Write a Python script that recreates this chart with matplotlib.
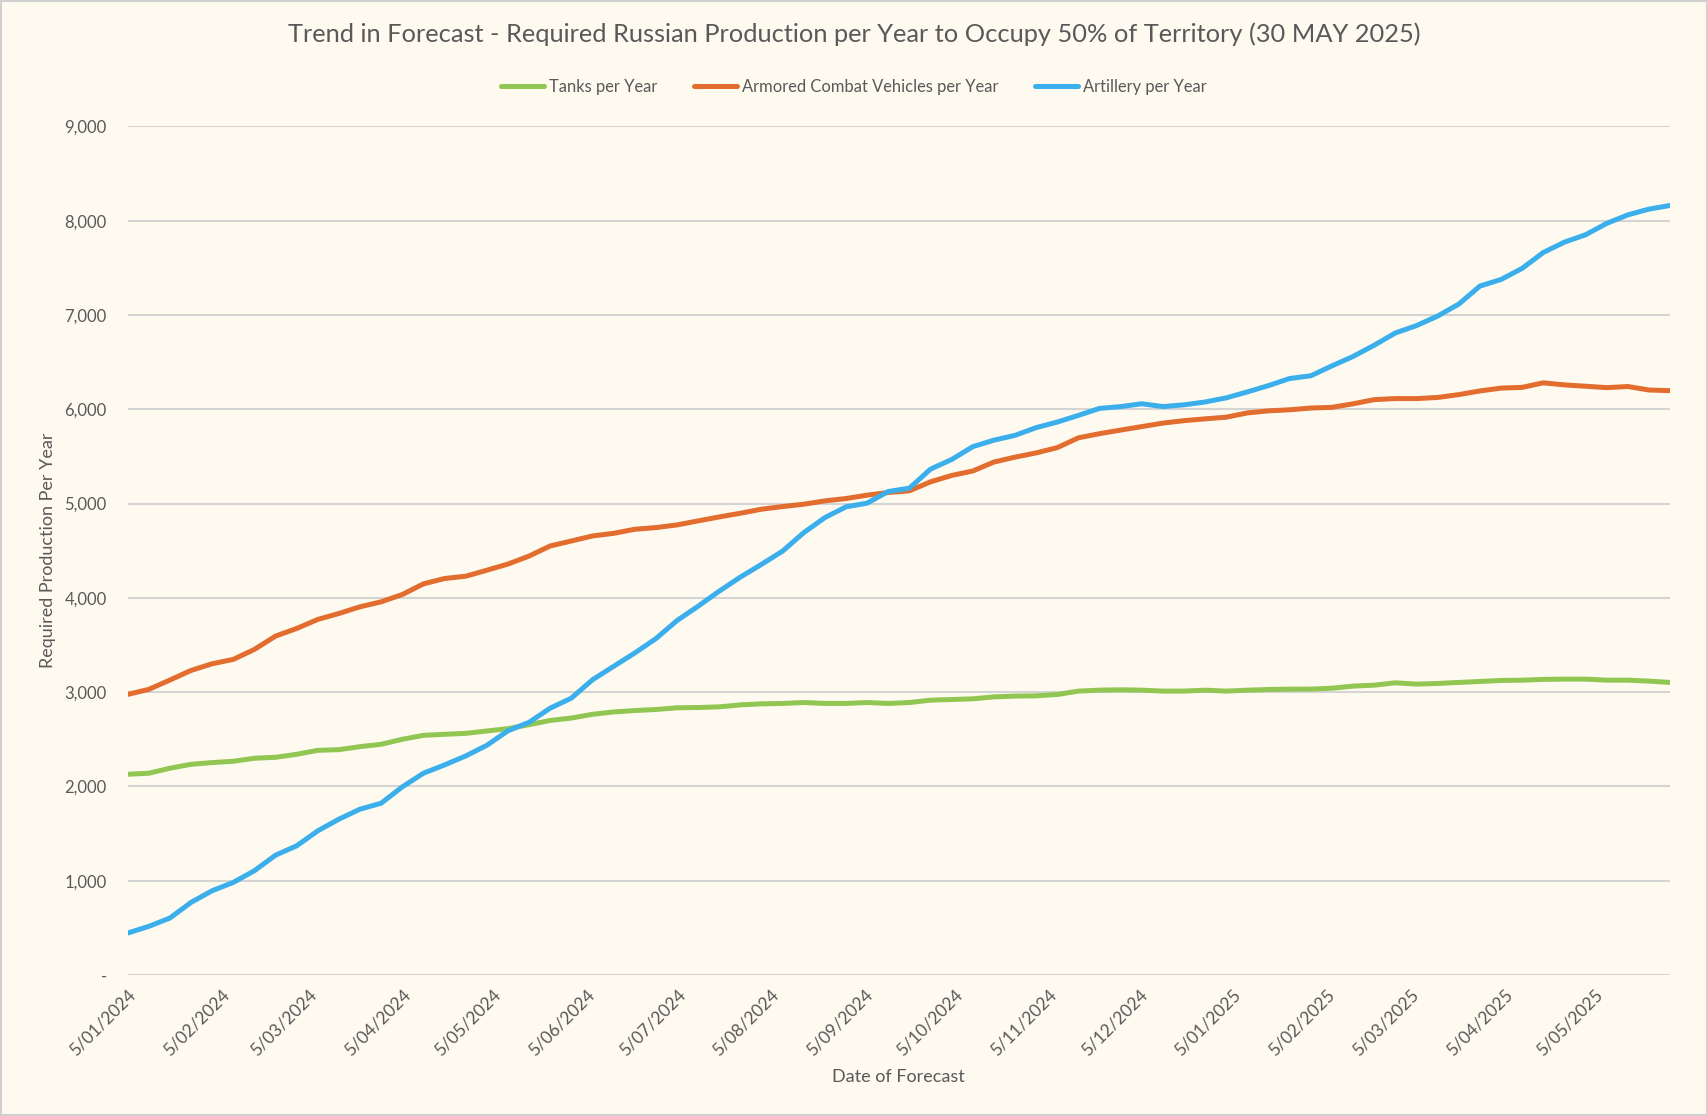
import matplotlib

matplotlib.use("Agg")
import matplotlib.pyplot as plt
import matplotlib.patches as patches
from matplotlib.ticker import FuncFormatter, FixedLocator
import pandas as pd


# weekly forecasts, 5 Jan 2024 .. 30 May 2025
dates = pd.date_range("2024-01-05", periods=74, freq="7D")

tanks = [
    2129, 2140, 2193, 2235, 2253, 2267, 2299, 2309, 2341, 2383,
    2390, 2422, 2447, 2500, 2542, 2553, 2563, 2588, 2613, 2655,
    2700, 2725, 2765, 2790, 2805, 2816, 2834, 2837, 2844, 2865,
    2876, 2880, 2890, 2880, 2880, 2890, 2880, 2890, 2915, 2922,
    2929, 2950, 2958, 2961, 2975, 3011, 3021, 3025, 3021, 3011,
    3011, 3021, 3011, 3021, 3028, 3032, 3032, 3042, 3064, 3074,
    3099, 3085, 3092, 3103, 3113, 3124, 3127, 3135, 3138, 3138,
    3127, 3127, 3117, 3103,
]
acv = [
    2976, 3029, 3128, 3230, 3301, 3347, 3453, 3594, 3675, 3771,
    3834, 3905, 3958, 4035, 4148, 4205, 4229, 4293, 4358, 4443,
    4550, 4603, 4656, 4684, 4727, 4745, 4773, 4816, 4858, 4897,
    4940, 4968, 4993, 5028, 5053, 5089, 5117, 5135, 5230, 5298,
    5345, 5440, 5492, 5537, 5593, 5697, 5741, 5779, 5816, 5853,
    5879, 5898, 5916, 5961, 5983, 5994, 6013, 6020, 6058, 6102,
    6113, 6113, 6125, 6155, 6194, 6224, 6232, 6280, 6258, 6244,
    6229, 6241, 6204, 6197,
]
artillery = [
    445, 516, 604, 770, 894, 982, 1106, 1271, 1370, 1529,
    1653, 1759, 1822, 1995, 2140, 2228, 2323, 2436, 2590, 2680,
    2830, 2936, 3131, 3273, 3415, 3567, 3759, 3911, 4071, 4220,
    4355, 4496, 4691, 4851, 4965, 5004, 5128, 5163, 5365, 5467,
    5603, 5672, 5723, 5805, 5864, 5935, 6009, 6028, 6058, 6028,
    6047, 6077, 6121, 6184, 6251, 6326, 6355, 6460, 6560, 6679,
    6809, 6887, 6988, 7115, 7306, 7376, 7494, 7662, 7772, 7850,
    7971, 8061, 8122, 8161,
]

series = [
    ("Tanks per Year", tanks, "#92C653"),
    ("Armored Combat Vehicles per Year", acv, "#E36C2F"),
    ("Artillery per Year", artillery, "#3BAEEC"),
]

BG = "#FFFAF0"
TEXT = "#595959"
GRID = "#D4D4D4"

plt.rcParams["font.family"] = ["Lato", "DejaVu Sans"]

fig = plt.figure(figsize=(17.08, 11.16), dpi=100, facecolor=BG)
ax = fig.add_axes([0.0747, 0.1263, 0.9031, 0.7605])
ax.set_facecolor(BG)

for label, values, color in series:
    ax.plot(dates, values, color=color, linewidth=3.6, label=label,
            solid_capstyle="round", solid_joinstyle="round", zorder=3)

ax.set_ylim(0, 9000)
ax.set_yticks(range(0, 9001, 1000))
ax.yaxis.set_major_formatter(FuncFormatter(lambda v, _: "-" if v == 0 else f"{int(v):,}"))
ax.grid(axis="y", color=GRID, linewidth=1.5, zorder=0)

ax.set_xlim(dates[0], dates[-1])
month_ticks = pd.date_range("2024-01-01", "2025-05-01", freq="MS") + pd.Timedelta(days=4)
ax.xaxis.set_major_locator(FixedLocator(matplotlib.dates.date2num(month_ticks)))
ax.set_xticklabels([f"{d.day}/{d.month:02d}/{d.year}" for d in month_ticks],
                   rotation=45, ha="right", va="top", rotation_mode="anchor")

for side in ["top", "right", "left", "bottom"]:
    ax.spines[side].set_visible(False)
ax.tick_params(axis="y", length=0, colors=TEXT, labelsize=12, pad=15)
ax.tick_params(axis="x", length=0, colors=TEXT, labelsize=12.5, pad=8)

ax.set_xlabel("Date of Forecast", fontsize=13, color=TEXT, labelpad=8)
ax.set_ylabel("Required Production Per Year", fontsize=13, color=TEXT, labelpad=6)

fig.suptitle("Trend in Forecast - Required Russian Production per Year to Occupy 50% of Territory (30 MAY 2025)",
             x=0.5, y=0.969, va="center", fontsize=18.3, color=TEXT)

fig.legend(loc="center", bbox_to_anchor=(0.5, 0.922), ncol=3, frameon=False,
           fontsize=11.9, labelcolor=TEXT, handlelength=2.6, handletextpad=0.3,
           columnspacing=2.2)

fig.patches.append(patches.Rectangle((0.0005, 0.0005), 0.999, 0.999, transform=fig.transFigure,
                                     fill=False, edgecolor="#D0D0D0", linewidth=1.5))

fig.savefig("out.png", dpi=100, facecolor=BG)
